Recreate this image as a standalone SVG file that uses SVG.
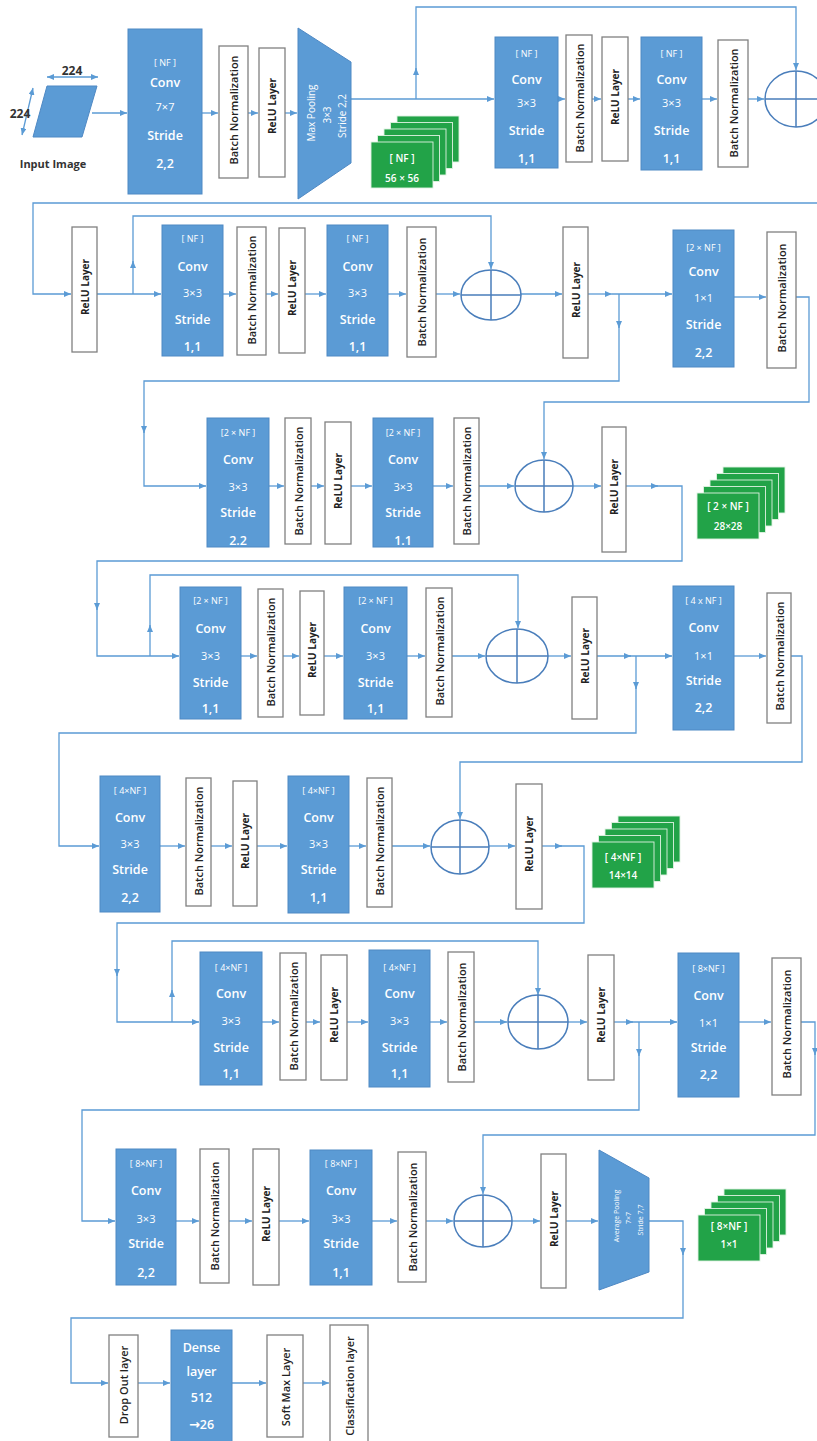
<svg xmlns="http://www.w3.org/2000/svg" width="817" height="1441" viewBox="0 0 817 1441">
<defs>
<style>
.cv{fill:#5b9bd5;stroke:#4f89c4;stroke-width:1}
.wb{fill:#fff;stroke:#808080;stroke-width:1.3}
.ct{font-family:"Open Sans","Liberation Sans",sans-serif;fill:#fff;text-anchor:middle;dominant-baseline:central;font-size:12.5px;font-weight:600}
.cs{font-size:9px;font-weight:400}
.cm{font-size:11px;font-weight:400}
.bt{font-family:"Open Sans","Liberation Sans",sans-serif;font-size:11px;font-weight:600;fill:#222;text-anchor:middle;dominant-baseline:central}
.rt{font-size:10px;font-weight:700}
.pt{font-family:"Open Sans","Liberation Sans",sans-serif;font-size:10px;fill:#fff;text-anchor:middle;dominant-baseline:central}
.ps{font-size:7px}
.ln{fill:none;stroke:#5b9bd5;stroke-width:1.3}
.ar{marker-end:url(#ah)}
.ad{fill:none;stroke:#4a7ebb;stroke-width:1.5}
.gc{fill:#22a348;stroke:#dff2e2;stroke-width:0.9}
.gt{font-family:"Open Sans","Liberation Sans",sans-serif;font-size:10px;font-weight:600;fill:#fff;text-anchor:middle;dominant-baseline:central}
.lb{font-family:"Open Sans","Liberation Sans",sans-serif;font-weight:700;fill:#333;text-anchor:middle;dominant-baseline:central}
</style>
<marker id="ah" viewBox="0 0 7 6" refX="7" refY="3" markerWidth="7" markerHeight="6" orient="auto" markerUnits="userSpaceOnUse"><path d="M0,0 L7,3 L0,6 z" fill="#5b9bd5"/></marker>
<marker id="ah2" viewBox="0 0 7 6" refX="7" refY="3" markerWidth="7" markerHeight="6" orient="auto-start-reverse" markerUnits="userSpaceOnUse"><path d="M0,0 L7,3 L0,6 z" fill="#5b9bd5"/></marker>
</defs>
<rect width="817" height="1441" fill="#fff"/>

<g id="connectors" class="ln">
<path class="ar" d="M92,113 H127"/>
<path class="ar" d="M202,113 H218"/>
<path class="ar" d="M248,113 H258"/>
<path class="ar" d="M285,113 H297"/>
<path class="ar" d="M351,99 H494"/>
<path class="ar" d="M416,99 V68"/>
<path class="ar" d="M416,70 V7 H796 V70"/>
<path class="ar" d="M558,99 H565"/>
<path class="ar" d="M592,99 H601"/>
<path class="ar" d="M628,99 H640"/>
<path class="ar" d="M702,99 H717"/>
<path class="ar" d="M748,99 H764"/>
<path class="ar" d="M817,203 H33 V294 H71"/>
<path class="ar" d="M97,294 H161"/>
<path class="ar" d="M133,294 V261"/>
<path class="ar" d="M133,263 V216 H491 V269"/>
<path class="ar" d="M223,294 H236"/>
<path class="ar" d="M266,294 H278"/>
<path class="ar" d="M305,294 H326"/>
<path class="ar" d="M388,294 H406"/>
<path class="ar" d="M436,294 H460"/>
<path class="ar" d="M521,294 H562"/>
<path class="ar" d="M588,294 H612"/>
<path class="ar" d="M612,294 H672"/>
<path class="ar" d="M619,294 V328"/>
<path class="ar" d="M619,326 V381 H144 V433"/>
<path class="ar" d="M144,431 V486 H206"/>
<path class="ar" d="M734,297 H766"/>
<path class="ar" d="M796,297 H809 V402 H544 V459"/>
<path class="ar" d="M269,486 H284"/>
<path class="ar" d="M311,486 H324"/>
<path class="ar" d="M351,486 H372"/>
<path class="ar" d="M433,486 H453"/>
<path class="ar" d="M479,486 H514"/>
<path class="ar" d="M573,486 H601"/>
<path class="ar" d="M626,486 H658"/>
<path class="ar" d="M656,486 H682 V561 H97 V610"/>
<path class="ar" d="M97,608 V656 H179"/>
<path class="ar" d="M150,656 V625"/>
<path class="ar" d="M150,627 V575 H518 V628"/>
<path class="ar" d="M241,656 H257"/>
<path class="ar" d="M283,656 H299"/>
<path class="ar" d="M324,656 H343"/>
<path class="ar" d="M407,656 H425"/>
<path class="ar" d="M452,656 H485"/>
<path class="ar" d="M548,656 H571"/>
<path class="ar" d="M597,656 H631"/>
<path class="ar" d="M629,656 H672"/>
<path class="ar" d="M636,656 V689"/>
<path class="ar" d="M636,687 V733 H59 V846 H99"/>
<path class="ar" d="M734,656 H766"/>
<path class="ar" d="M791,656 H802 V762 H460 V819"/>
<path class="ar" d="M160,846 H185"/>
<path class="ar" d="M211,846 H232"/>
<path class="ar" d="M257,846 H287"/>
<path class="ar" d="M349,846 H366"/>
<path class="ar" d="M392,846 H430"/>
<path class="ar" d="M489,846 H515"/>
<path class="ar" d="M542,846 H562"/>
<path class="ar" d="M560,846 H584 V923 H117 V976"/>
<path class="ar" d="M117,974 V1022 H199"/>
<path class="ar" d="M172,1022 V990"/>
<path class="ar" d="M172,992 V941 H538 V995"/>
<path class="ar" d="M262,1022 H279"/>
<path class="ar" d="M306,1022 H320"/>
<path class="ar" d="M347,1022 H368"/>
<path class="ar" d="M430,1022 H447"/>
<path class="ar" d="M474,1022 H507"/>
<path class="ar" d="M568,1022 H587"/>
<path class="ar" d="M614,1022 H633"/>
<path class="ar" d="M631,1022 H677"/>
<path class="ar" d="M639,1022 V1056"/>
<path class="ar" d="M639,1054 V1110 H82 V1221 H115"/>
<path class="ar" d="M739,1022 H771"/>
<path class="ar" d="M801,1022 H815 V1055"/>
<path class="ar" d="M815,1053 V1135 H483 V1194"/>
<path class="ar" d="M176,1221 H199"/>
<path class="ar" d="M229,1221 H252"/>
<path class="ar" d="M279,1221 H309"/>
<path class="ar" d="M372,1221 H397"/>
<path class="ar" d="M426,1221 H453"/>
<path class="ar" d="M512,1221 H540"/>
<path class="ar" d="M566,1221 H598"/>
<path class="ar" d="M649,1221 H683 V1255"/>
<path class="ar" d="M683,1253 V1318 H71 V1383 H108"/>
<path class="ar" d="M138,1383 H170"/>
<path class="ar" d="M232,1383 H266"/>
<path class="ar" d="M303,1383 H329"/>
<path d="M47,77 H98" marker-start="url(#ah2)" marker-end="url(#ah2)"/>
<path d="M33,88 L22,135" marker-start="url(#ah2)" marker-end="url(#ah2)"/>
</g>

<g id="input">
<polygon points="47,86 97,86 82,137 33,137" fill="#5b9bd5" stroke="#4f89c4"/>
<text class="lb" x="72" y="70" font-size="12">224</text>
<text class="lb" x="20" y="113" font-size="12">224</text>
<text class="lb" x="53" y="163" font-size="11">Input Image</text>
</g>

<g id="conv1"><rect class="cv" x="128" y="29" width="74" height="165"/>
<text class="ct cs" x="165" y="62">[ NF ]</text><text class="ct" x="165" y="82">Conv</text><text class="ct cm" x="165" y="106">7×7</text><text class="ct" x="165" y="135">Stride</text><text class="ct" x="165" y="163">2,2</text></g>
<g id="bn1"><rect class="wb" x="219" y="46" width="29" height="132"/><text class="bt" transform="translate(233.5,110) rotate(-90)">Batch Normalization</text></g>
<g id="relu1"><rect class="wb" x="259" y="48" width="26" height="129"/><text class="bt rt" transform="translate(272,106) rotate(-90)">ReLU Layer</text></g>
<g id="maxpool"><polygon points="298,28 351,62 351,163 298,199" fill="#5b9bd5" stroke="#4f89c4"/>
<text class="pt" transform="translate(311,113) rotate(-90)">Max Pooling</text>
<text class="pt" transform="translate(327,115) rotate(-90)">3×3</text>
<text class="pt" transform="translate(342,116) rotate(-90)">Stride 2,2</text></g>
<g id="fmap1">
<rect class="gc" x="397" y="116" width="62" height="46"/><rect class="gc" x="390.5" y="122.5" width="62" height="46"/><rect class="gc" x="384" y="129" width="62" height="46"/><rect class="gc" x="377.5" y="135.5" width="62" height="46"/><rect class="gc" x="371" y="142" width="62" height="46"/>
<text class="gt" x="402" y="158">[ NF ]</text><text class="gt" x="402" y="178" font-size="10.5">56 × 56</text></g>
<g id="conv2"><rect class="cv" x="495" y="37" width="63" height="131"/>
<text class="ct cs" x="526.5" y="53">[ NF ]</text><text class="ct" x="526.5" y="79">Conv</text><text class="ct cm" x="526.5" y="102">3×3</text><text class="ct" x="526.5" y="130">Stride</text><text class="ct" x="526.5" y="158">1,1</text></g>
<g id="bn2"><rect class="wb" x="566" y="35" width="26" height="127"/><text class="bt" transform="translate(579,98) rotate(-90)">Batch Normalization</text></g>
<g id="relu2"><rect class="wb" x="602" y="37" width="26" height="124"/><text class="bt rt" transform="translate(615,97) rotate(-90)">ReLU Layer</text></g>
<g id="conv3"><rect class="cv" x="641" y="37" width="61" height="133"/>
<text class="ct cs" x="671.5" y="53">[ NF ]</text><text class="ct" x="671.5" y="79">Conv</text><text class="ct cm" x="671.5" y="102">3×3</text><text class="ct" x="671.5" y="130">Stride</text><text class="ct" x="671.5" y="158">1,1</text></g>
<g id="bn3"><rect class="wb" x="718" y="40" width="30" height="127"/><text class="bt" transform="translate(733,103) rotate(-90)">Batch Normalization</text></g>
<g id="add1"><ellipse class="ad" cx="796" cy="99" rx="31" ry="28"/><path class="ad" d="M765,99 H827 M796,71 V127"/></g>

<g id="relu3"><rect class="wb" x="72" y="227" width="25" height="125"/><text class="bt rt" transform="translate(84.5,287) rotate(-90)">ReLU Layer</text></g>
<g id="conv4"><rect class="cv" x="162" y="225" width="61" height="131"/>
<text class="ct cs" x="192.5" y="238">[ NF ]</text><text class="ct" x="192.5" y="266">Conv</text><text class="ct cm" x="192.5" y="292">3×3</text><text class="ct" x="192.5" y="319">Stride</text><text class="ct" x="192.5" y="346">1,1</text></g>
<g id="bn4"><rect class="wb" x="237" y="227" width="29" height="128"/><text class="bt" transform="translate(251.5,290) rotate(-90)">Batch Normalization</text></g>
<g id="relu4"><rect class="wb" x="279" y="228" width="26" height="125"/><text class="bt rt" transform="translate(292,288) rotate(-90)">ReLU Layer</text></g>
<g id="conv5"><rect class="cv" x="327" y="225" width="61" height="131"/>
<text class="ct cs" x="357.5" y="238">[ NF ]</text><text class="ct" x="357.5" y="266">Conv</text><text class="ct cm" x="357.5" y="292">3×3</text><text class="ct" x="357.5" y="319">Stride</text><text class="ct" x="357.5" y="346">1,1</text></g>
<g id="bn5"><rect class="wb" x="407" y="227" width="29" height="130"/><text class="bt" transform="translate(421.5,292) rotate(-90)">Batch Normalization</text></g>
<g id="add2"><ellipse class="ad" cx="491" cy="295" rx="30" ry="25"/><path class="ad" d="M461,295 H521 M491,270 V320"/></g>
<g id="relu5"><rect class="wb" x="563" y="227" width="25" height="131"/><text class="bt rt" transform="translate(575.5,290) rotate(-90)">ReLU Layer</text></g>
<g id="conv6"><rect class="cv" x="673" y="230" width="61" height="137"/>
<text class="ct cs" x="703.5" y="247">[2 × NF ]</text><text class="ct" x="703.5" y="271">Conv</text><text class="ct cm" x="703.5" y="297">1×1</text><text class="ct" x="703.5" y="324">Stride</text><text class="ct" x="703.5" y="352">2,2</text></g>
<g id="bn6"><rect class="wb" x="767" y="232" width="29" height="136"/><text class="bt" transform="translate(781.5,298) rotate(-90)">Batch Normalization</text></g>

<g id="conv7"><rect class="cv" x="207" y="418" width="62" height="129"/>
<text class="ct cs" x="238" y="432">[2 × NF ]</text><text class="ct" x="238" y="459">Conv</text><text class="ct cm" x="238" y="486">3×3</text><text class="ct" x="238" y="512">Stride</text><text class="ct" x="238" y="540">2.2</text></g>
<g id="bn7"><rect class="wb" x="285" y="418" width="26" height="126"/><text class="bt" transform="translate(298,481) rotate(-90)">Batch Normalization</text></g>
<g id="relu7"><rect class="wb" x="325" y="422" width="26" height="122"/><text class="bt rt" transform="translate(338,481) rotate(-90)">ReLU Layer</text></g>
<g id="conv8"><rect class="cv" x="373" y="418" width="60" height="129"/>
<text class="ct cs" x="403" y="432">[2 × NF ]</text><text class="ct" x="403" y="459">Conv</text><text class="ct cm" x="403" y="486">3×3</text><text class="ct" x="403" y="512">Stride</text><text class="ct" x="403" y="540">1.1</text></g>
<g id="bn8"><rect class="wb" x="454" y="418" width="25" height="126"/><text class="bt" transform="translate(466.5,481) rotate(-90)">Batch Normalization</text></g>
<g id="add3"><ellipse class="ad" cx="544" cy="486" rx="29" ry="26"/><path class="ad" d="M515,486 H573 M544,460 V512"/></g>
<g id="relu8"><rect class="wb" x="602" y="427" width="24" height="125"/><text class="bt rt" transform="translate(614,487) rotate(-90)">ReLU Layer</text></g>
<g id="fmap2">
<rect class="gc" x="723" y="467" width="62" height="46"/><rect class="gc" x="716.5" y="473.5" width="62" height="46"/><rect class="gc" x="710" y="480" width="62" height="46"/><rect class="gc" x="703.5" y="486.5" width="62" height="46"/><rect class="gc" x="697" y="493" width="62" height="46"/>
<text class="gt" x="728" y="506">[ 2 × NF ]</text><text class="gt" x="728" y="526">28×28</text></g>

<g id="conv9"><rect class="cv" x="180" y="587" width="61" height="132"/>
<text class="ct cs" x="210.5" y="600">[2 × NF ]</text><text class="ct" x="210.5" y="628">Conv</text><text class="ct cm" x="210.5" y="655">3×3</text><text class="ct" x="210.5" y="682">Stride</text><text class="ct" x="210.5" y="708">1,1</text></g>
<g id="bn9"><rect class="wb" x="258" y="589" width="25" height="128"/><text class="bt" transform="translate(270.5,652) rotate(-90)">Batch Normalization</text></g>
<g id="relu9"><rect class="wb" x="300" y="591" width="24" height="124"/><text class="bt rt" transform="translate(312,650) rotate(-90)">ReLU Layer</text></g>
<g id="conv10"><rect class="cv" x="344" y="587" width="63" height="132"/>
<text class="ct cs" x="375.5" y="600">[2 × NF ]</text><text class="ct" x="375.5" y="628">Conv</text><text class="ct cm" x="375.5" y="655">3×3</text><text class="ct" x="375.5" y="682">Stride</text><text class="ct" x="375.5" y="708">1,1</text></g>
<g id="bn10"><rect class="wb" x="426" y="588" width="26" height="129"/><text class="bt" transform="translate(439,651) rotate(-90)">Batch Normalization</text></g>
<g id="add4"><ellipse class="ad" cx="517" cy="656" rx="31" ry="27"/><path class="ad" d="M486,656 H548 M517,629 V683"/></g>
<g id="relu10"><rect class="wb" x="572" y="597" width="25" height="122"/><text class="bt rt" transform="translate(584.5,656) rotate(-90)">ReLU Layer</text></g>
<g id="conv11"><rect class="cv" x="673" y="586" width="61" height="144"/>
<text class="ct cs" x="703.5" y="600">[ 4 x NF ]</text><text class="ct" x="703.5" y="627">Conv</text><text class="ct cm" x="703.5" y="655">1×1</text><text class="ct" x="703.5" y="680">Stride</text><text class="ct" x="703.5" y="707">2,2</text></g>
<g id="bn11"><rect class="wb" x="767" y="593" width="24" height="130"/><text class="bt" transform="translate(779,656) rotate(-90)">Batch Normalization</text></g>

<g id="conv12"><rect class="cv" x="100" y="776" width="60" height="136"/>
<text class="ct cs" x="130" y="790">[ 4×NF ]</text><text class="ct" x="130" y="817">Conv</text><text class="ct cm" x="130" y="843">3×3</text><text class="ct" x="130" y="869">Stride</text><text class="ct" x="130" y="897">2,2</text></g>
<g id="bn12"><rect class="wb" x="186" y="778" width="25" height="128"/><text class="bt" transform="translate(198.5,841) rotate(-90)">Batch Normalization</text></g>
<g id="relu12"><rect class="wb" x="233" y="781" width="24" height="125"/><text class="bt rt" transform="translate(245,841) rotate(-90)">ReLU Layer</text></g>
<g id="conv13"><rect class="cv" x="288" y="776" width="61" height="137"/>
<text class="ct cs" x="318.5" y="790">[ 4×NF ]</text><text class="ct" x="318.5" y="817">Conv</text><text class="ct cm" x="318.5" y="843">3×3</text><text class="ct" x="318.5" y="869">Stride</text><text class="ct" x="318.5" y="897">1,1</text></g>
<g id="bn13"><rect class="wb" x="367" y="778" width="25" height="129"/><text class="bt" transform="translate(379.5,841) rotate(-90)">Batch Normalization</text></g>
<g id="add5"><ellipse class="ad" cx="460" cy="847" rx="29" ry="27"/><path class="ad" d="M431,847 H489 M460,820 V874"/></g>
<g id="relu13"><rect class="wb" x="516" y="784" width="26" height="125"/><text class="bt rt" transform="translate(529,844) rotate(-90)">ReLU Layer</text></g>
<g id="fmap3">
<rect class="gc" x="618" y="816" width="62" height="46"/><rect class="gc" x="611.5" y="822.5" width="62" height="46"/><rect class="gc" x="605" y="829" width="62" height="46"/><rect class="gc" x="598.5" y="835.5" width="62" height="46"/><rect class="gc" x="592" y="842" width="62" height="46"/>
<text class="gt" x="623" y="857">[ 4×NF ]</text><text class="gt" x="623" y="875">14×14</text></g>

<g id="conv14"><rect class="cv" x="200" y="952" width="62" height="133"/>
<text class="ct cs" x="231" y="967">[ 4×NF ]</text><text class="ct" x="231" y="993">Conv</text><text class="ct cm" x="231" y="1020">3×3</text><text class="ct" x="231" y="1047">Stride</text><text class="ct" x="231" y="1073">1,1</text></g>
<g id="bn14"><rect class="wb" x="280" y="953" width="26" height="127"/><text class="bt" transform="translate(293,1016) rotate(-90)">Batch Normalization</text></g>
<g id="relu14"><rect class="wb" x="321" y="955" width="26" height="125"/><text class="bt rt" transform="translate(334,1015) rotate(-90)">ReLU Layer</text></g>
<g id="conv15"><rect class="cv" x="369" y="950" width="61" height="137"/>
<text class="ct cs" x="399.5" y="967">[ 4×NF ]</text><text class="ct" x="399.5" y="993">Conv</text><text class="ct cm" x="399.5" y="1020">3×3</text><text class="ct" x="399.5" y="1047">Stride</text><text class="ct" x="399.5" y="1073">1,1</text></g>
<g id="bn15"><rect class="wb" x="448" y="952" width="26" height="130"/><text class="bt" transform="translate(461,1017) rotate(-90)">Batch Normalization</text></g>
<g id="add6"><ellipse class="ad" cx="538" cy="1022" rx="30" ry="27"/><path class="ad" d="M508,1022 H568 M538,995 V1049"/></g>
<g id="relu15"><rect class="wb" x="588" y="955" width="26" height="125"/><text class="bt rt" transform="translate(601,1015) rotate(-90)">ReLU Layer</text></g>
<g id="conv16"><rect class="cv" x="678" y="953" width="61" height="144"/>
<text class="ct cs" x="708.5" y="968">[ 8×NF ]</text><text class="ct" x="708.5" y="995">Conv</text><text class="ct cm" x="708.5" y="1022">1×1</text><text class="ct" x="708.5" y="1047">Stride</text><text class="ct" x="708.5" y="1074">2,2</text></g>
<g id="bn16"><rect class="wb" x="772" y="958" width="29" height="137"/><text class="bt" transform="translate(786.5,1024) rotate(-90)">Batch Normalization</text></g>

<g id="conv17"><rect class="cv" x="116" y="1149" width="60" height="136"/>
<text class="ct cs" x="146" y="1163">[ 8×NF ]</text><text class="ct" x="146" y="1190">Conv</text><text class="ct cm" x="146" y="1218">3×3</text><text class="ct" x="146" y="1243">Stride</text><text class="ct" x="146" y="1272">2,2</text></g>
<g id="bn17"><rect class="wb" x="200" y="1149" width="29" height="134"/><text class="bt" transform="translate(214.5,1216) rotate(-90)">Batch Normalization</text></g>
<g id="relu17"><rect class="wb" x="253" y="1149" width="26" height="136"/><text class="bt rt" transform="translate(266,1214) rotate(-90)">ReLU Layer</text></g>
<g id="conv18"><rect class="cv" x="310" y="1150" width="62" height="135"/>
<text class="ct cs" x="341" y="1163">[ 8×NF ]</text><text class="ct" x="341" y="1190">Conv</text><text class="ct cm" x="341" y="1218">3×3</text><text class="ct" x="341" y="1243">Stride</text><text class="ct" x="341" y="1272">1,1</text></g>
<g id="bn18"><rect class="wb" x="398" y="1152" width="28" height="130"/><text class="bt" transform="translate(412,1217) rotate(-90)">Batch Normalization</text></g>
<g id="add7"><ellipse class="ad" cx="483" cy="1221" rx="29" ry="26"/><path class="ad" d="M454,1221 H512 M483,1195 V1247"/></g>
<g id="relu18"><rect class="wb" x="541" y="1154" width="25" height="134"/><text class="bt rt" transform="translate(553.5,1219) rotate(-90)">ReLU Layer</text></g>
<g id="avgpool"><polygon points="599,1150 649,1178 649,1272 599,1290" fill="#5b9bd5" stroke="#4f89c4"/>
<text class="pt ps" transform="translate(616,1216) rotate(-90)">Average Pooling</text>
<text class="pt ps" transform="translate(628,1218) rotate(-90)">7×7</text>
<text class="pt ps" transform="translate(640,1220) rotate(-90)">Stride 7,7</text></g>
<g id="fmap4">
<rect class="gc" x="724" y="1189" width="62" height="46"/><rect class="gc" x="717.5" y="1195.5" width="62" height="46"/><rect class="gc" x="711" y="1202" width="62" height="46"/><rect class="gc" x="704.5" y="1208.5" width="62" height="46"/><rect class="gc" x="698" y="1215" width="62" height="46"/>
<text class="gt" x="729" y="1226">[ 8×NF ]</text><text class="gt" x="729" y="1244">1×1</text></g>

<g id="dropout"><rect class="wb" x="109" y="1335" width="29" height="102"/><text class="bt" transform="translate(123.5,1385) rotate(-90)">Drop Out layer</text></g>
<g id="dense"><rect class="cv" x="171" y="1330" width="61" height="115"/>
<text class="ct" x="201.5" y="1347">Dense</text><text class="ct" x="201.5" y="1371">layer</text><text class="ct" x="201.5" y="1397">512</text><text class="ct" x="201.5" y="1424"><tspan font-family="DejaVu Sans, sans-serif" font-size="13" font-weight="700">→</tspan>26</text></g>
<g id="softmax"><rect class="wb" x="267" y="1335" width="36" height="102"/><text class="bt" transform="translate(285,1387) rotate(-90)">Soft Max Layer</text></g>
<g id="classification"><rect class="wb" x="330" y="1325" width="38" height="120"/><text class="bt" transform="translate(349,1386) rotate(-90)">Classification layer</text></g>
</svg>
